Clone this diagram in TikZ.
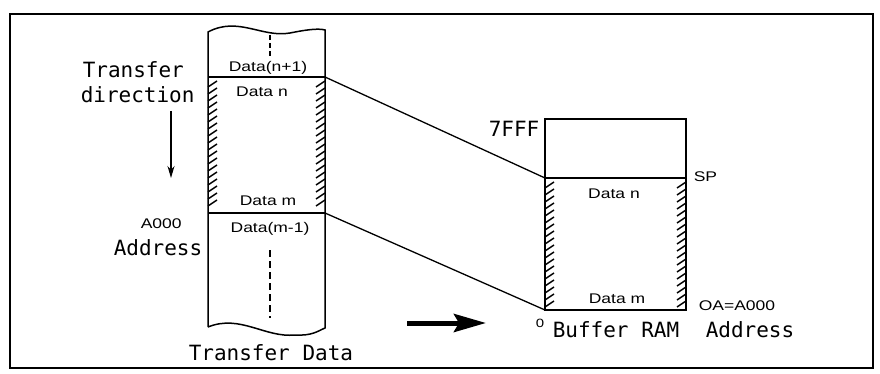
\documentclass[tikz,border=0pt]{standalone}
\usepackage{fontspec}
\newfontfamily\bigfont{DejaVu Sans Mono}
\newfontfamily\lblfont[FakeStretch=1.25]{Liberation Sans}
\usetikzlibrary{arrows.meta}
\tikzset{
  big/.style={font=\bigfont\fontsize{21}{24}\selectfont, inner sep=0pt},
  lbl/.style={font=\lblfont\fontsize{14}{16}\selectfont, inner sep=0pt},
  hatch/.style={line width=1.5pt},
}

\begin{document}
\begin{tikzpicture}[x=1pt, y=-1pt, line width=1.5pt]
\useasboundingbox (0,0) rectangle (880,374);
\def\colL{208}
\def\colR{325}
\def\ramL{545}
\def\ramR{686}
\coordinate (nTop) at (\colR,77);
\coordinate (mBot) at (\colR,213);
\coordinate (spL) at (\ramL,178);
\coordinate (ramBot) at (\ramL,310);

\draw[line width=1.8pt] (10,14) rectangle (873,368);

\draw (\colL,327) -- (\colL,32)
  .. controls (238,16) and (262,38) .. (290,33)
  .. controls (305,30) and (318,28) .. (\colR,30) -- (\colR,328)
  .. controls (318,331) and (312,336) .. (295,335)
  .. controls (265,338) and (240,314) .. (\colL,327);
\draw (\colL,77) -- (nTop);
\draw (\colL,213) -- (mBot);
\draw[dashed, dash pattern=on 5pt off 3pt] (270,35) -- (270,56);
\draw[dashed, dash pattern=on 7pt off 4pt] (270,250) -- (270,318);

\draw (\ramL,119) rectangle (\ramR,310);
\draw (spL) -- (\ramR,178);

\foreach \y in {84,91,...,208} {
  \draw[hatch] (\colL,\y+3) -- (\colL+9,\y-3);
  \draw[hatch] (\colR-9,\y+3) -- (\colR,\y-3);
}
\foreach \y in {185,192,...,306} {
  \draw[hatch] (\ramL,\y+3) -- (\ramL+9,\y-3);
  \draw[hatch] (\ramR-9,\y+3) -- (\ramR,\y-3);
}

\draw[line width=1.3pt] (nTop) -- (spL);
\draw[line width=1.3pt] (mBot) -- (ramBot);

\coordinate (dirTop) at (171,111);
\coordinate (dirBot) at (171,178);
\draw[line width=1.3pt, -{Stealth[length=12pt,width=7pt]}] (dirTop) -- (dirBot);

\coordinate (bigA) at (407,323);
\coordinate (bigB) at (486,323);
\draw[line width=5pt, -{Stealth[length=32pt,width=18pt,inset=5pt]}] (bigA) -- (bigB);

\node[big, anchor=base west] (tr) at (82,78) {Transfer};
\node[big, anchor=base west] (dir) at (80,103) {direction};
\node[lbl, anchor=base west] (a000) at (140,228) {A000};
\node[big, anchor=base west] (addrL) at (113,255) {Address};
\node[big, anchor=base west] (trData) at (188,360) {Transfer Data};

\node[lbl, anchor=base] (dn1) at (268,72) {Data(n+1)};
\node[lbl, anchor=base] (dn) at (262,97) {Data n};
\node[lbl, anchor=base] (dm) at (268,205) {Data m};
\node[lbl, anchor=base] (dm1) at (270,232) {Data(m-1)};

\node[big, anchor=base west] (f7) at (488,137) {7FFF};
\node[lbl, anchor=base west] (sp) at (693,182) {SP};
\node[lbl, anchor=base] (rdn) at (614,198) {Data n};
\node[lbl, anchor=base] (rdm) at (617,303) {Data m};
\node[lbl, anchor=base west] (oa) at (698,310) {OA=A000};
\node[lbl, anchor=base west, font=\lblfont\fontsize{12}{14}\selectfont] (zero) at (535,327) {0};
\node[big, anchor=base west] (buf) at (552,337) {Buffer RAM};
\node[big, anchor=base west] (addrR) at (705,337) {Address};
\end{tikzpicture}
\end{document}
